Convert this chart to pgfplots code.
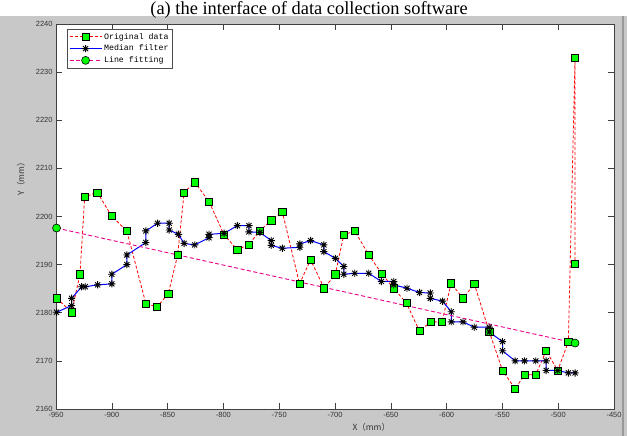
\documentclass[border=0pt]{standalone}
\usepackage{pgfplots}
\pgfplotsset{compat=1.18}
\usepackage{fontspec}
\setmainfont{Liberation Sans}
\newfontfamily\capfont{Liberation Serif}
\newfontfamily\legfont{Liberation Mono}
\newfontfamily\cjk{Noto Sans CJK SC}
\definecolor{figgray}{RGB}{200,200,200}
\pgfdeclareplotmark{mstar}{%
 \pgfpathmoveto{\pgfqpoint{-\pgfplotmarksize}{0pt}}\pgfpathlineto{\pgfqpoint{\pgfplotmarksize}{0pt}}%
 \pgfpathmoveto{\pgfqpoint{0pt}{-\pgfplotmarksize}}\pgfpathlineto{\pgfqpoint{0pt}{\pgfplotmarksize}}%
 \pgfpathmoveto{\pgfqpoint{-0.707\pgfplotmarksize}{-0.707\pgfplotmarksize}}\pgfpathlineto{\pgfqpoint{0.707\pgfplotmarksize}{0.707\pgfplotmarksize}}%
 \pgfpathmoveto{\pgfqpoint{-0.707\pgfplotmarksize}{0.707\pgfplotmarksize}}\pgfpathlineto{\pgfqpoint{0.707\pgfplotmarksize}{-0.707\pgfplotmarksize}}%
 \pgfusepathqstroke}

\pgfplotstableread{
x y
-949.3 2183.0
-936.0 2180.1
-928.5 2188.0
-924.3 2204.1
-913.0 2205.0
-900.2 2200.1
-886.5 2197.0
-869.5 2181.9
-859.5 2181.2
-849.3 2184.0
-841.0 2192.0
-835.2 2205.0
-825.6 2207.1
-812.9 2203.1
-799.4 2196.2
-787.5 2193.1
-777.1 2194.2
-767.5 2197.0
-757.1 2199.2
-747.2 2201.0
-731.8 2186.0
-721.9 2191.0
-709.7 2185.1
-699.7 2188.0
-692.1 2196.2
-682.3 2197.0
-670.0 2192.1
-658.1 2188.1
-647.4 2185.1
-636.0 2182.0
-624.3 2176.2
-614.3 2178.1
-604.1 2178.1
-595.9 2186.1
-585.3 2183.0
-575.2 2186.0
-561.8 2176.1
-549.9 2168.0
-538.6 2164.2
-530.2 2167.1
-520.1 2167.1
-510.8 2172.1
-500.4 2168.0
-490.9 2174.0
-484.9 2233.0
-484.9 2190.1
}\origdata

\pgfplotstableread{
x y
-949.5 2180.1
-936.0 2181.5
-936.0 2183.0
-927.0 2185.4
-923.8 2185.4
-912.7 2185.8
-900.0 2186.0
-900.0 2188.0
-886.5 2190.0
-886.5 2192.0
-869.5 2194.6
-869.5 2197.0
-859.0 2198.6
-848.6 2198.6
-848.6 2197.2
-840.3 2196.3
-835.2 2194.4
-825.7 2194.1
-812.9 2195.6
-812.9 2196.3
-799.4 2196.5
-787.5 2198.1
-777.1 2198.1
-777.1 2196.8
-767.3 2196.7
-757.1 2195.0
-757.1 2194.0
-747.2 2193.4
-731.5 2193.6
-731.5 2194.3
-721.9 2195.0
-710.0 2194.1
-710.0 2192.7
-699.6 2191.3
-692.1 2189.6
-692.1 2188.0
-682.3 2188.2
-669.8 2188.2
-658.4 2186.5
-647.4 2186.5
-647.4 2185.8
-635.5 2185.1
-624.2 2184.2
-614.6 2184.1
-614.6 2183.0
-603.6 2182.4
-595.8 2180.2
-595.8 2178.1
-585.3 2178.1
-575.2 2177.0
-561.8 2177.0
-561.8 2176.0
-549.9 2174.0
-549.9 2172.1
-538.6 2170.0
-530.2 2170.0
-520.1 2170.0
-510.8 2170.0
-510.8 2168.0
-500.4 2168.0
-490.9 2167.5
-484.9 2167.5
}\meddata

\pgfplotstableread{
x y
-949.5 2197.6
-484.9 2173.7
}\fitdata

\begin{document}
\begin{tikzpicture}
\clip (0bp,0bp) rectangle (627bp,436bp);
\fill[white] (0bp,0bp) rectangle (627bp,436bp);
\fill[figgray] (0bp,0bp) rectangle (627bp,420bp);
\fill[black!40] (622bp,0bp) rectangle (624bp,420bp);
\node[anchor=base, font=\capfont\fontsize{18.5}{22}\selectfont, inner sep=0pt] at (309bp,421bp) {(a) the interface of data collection software};
\begin{axis}[
  at={(56bp,27bp)}, anchor=south west, scale only axis,
  width=558bp, height=385bp,
  xmin=-950, xmax=-450, ymin=2160, ymax=2240,
  xtick={-950,-900,...,-450}, ytick={2160,2170,...,2240},
  axis background/.style={fill=white},
  axis line style={black!75, line width=0.6bp},
  tick style={black!75, line width=0.6bp},
  major tick length=6bp,
  tick align=inside, xtick pos=both, ytick pos=both,
  ticklabel style={font=\fontsize{7.5}{8}\selectfont, text=black!80},
  /pgf/number format/assume math mode=true,
  /pgf/number format/set thousands separator={},
  scaled ticks=false,
  xlabel={\cjk X（mm）}, ylabel={\cjk Y（mm）},
  xlabel style={at={(axis description cs:0.565,-0.047)}, anchor=center, font=\fontsize{8.5}{9}\selectfont, text=black!80},
  ylabel style={at={(axis description cs:-0.0627,0.603)}, anchor=center, font=\fontsize{8.5}{9}\selectfont, text=black!80},
  legend style={at={(axis description cs:0.0197,0.987)}, anchor=north west,
    font=\legfont\fontsize{8.3}{10.5}\selectfont, draw=black!70, line width=0.6bp,
    inner sep=1.8bp, row sep=0.3bp, cells={anchor=west}},
  legend image code/.code={\draw[mark repeat=2,mark phase=2,#1] plot coordinates {(0bp,0bp) (16bp,0bp) (32bp,0bp)};},
]
\addplot[red, line width=0.8bp, dash pattern=on 3bp off 2bp, mark=square*,
  mark options={solid, fill=green, draw=black, line width=0.6bp}, mark size=3.6bp] table {\origdata};
\addlegendentry{Original data}
\addplot[blue, line width=1bp, mark=mstar,
  mark options={solid, draw=black, line width=0.9bp}, mark size=3.6bp] table {\meddata};
\addlegendentry{Median filter}
\addplot[magenta, line width=0.9bp, dash pattern=on 4bp off 2.5bp, mark=*,
  mark options={solid, fill=green, draw=black, line width=0.6bp}, mark size=4bp] table {\fitdata};
\addlegendentry{Line fitting}
\end{axis}
\end{tikzpicture}
\end{document}
